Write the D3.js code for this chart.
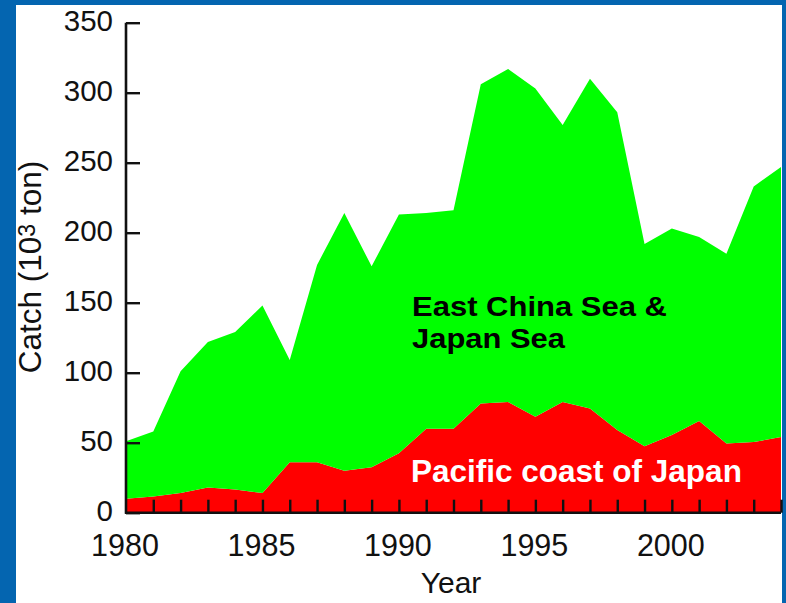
<!DOCTYPE html>
<html><head><meta charset="utf-8">
<script src="https://cdn.jsdelivr.net/npm/d3@7"></script>
<style>html,body{margin:0;padding:0;background:#0465b0;overflow:hidden} svg{display:block}</style>
</head><body><svg id="chart" width="786" height="603"></svg>
<script>
// ---- data ----
const years = [1980,1981,1982,1983,1984,1985,1986,1987,1988,1989,1990,1991,1992,1993,1994,1995,1996,1997,1998,1999,2000,2001,2002,2003,2004];
const pacificCoast = [10,11.5,14,18,16.5,14,36,36,30,32.5,42.5,60,60,78,79,68.5,79,74.5,59,47.5,55.5,65.5,49.5,50.5,54];
const eastChinaJapanSea = [41,46.5,87,104,112.5,134,73,141,184,143.5,170.5,154,156,228,238,234.5,198,235.5,227,144.5,147.5,131.5,135.5,182.5,193];
const yTickValues = [0,50,100,150,200,250,300,350];
const xLabelYears = [1980,1985,1990,1995,2000];
const seriesKeys = ["pacific","eastChina"];
const seriesColors = ["#ff0000","#00ff00"];
const labelTop = ["East China Sea &","Japan Sea"];
const labelBottom = "Pacific coast of Japan";

// ---- build ----
const table = years.map((yr,i)=>({year:yr,pacific:pacificCoast[i],eastChina:eastChinaJapanSea[i]}));
const svg = d3.select("#chart");
const FONT = "'Liberation Sans', Arial, Helvetica, sans-serif";
svg.append("rect").attr("x",16).attr("y",5).attr("width",766).attr("height",598).attr("fill","#ffffff");

const x = d3.scaleLinear().domain([1980,2004]).range([126,781]);
const y = d3.scaleLinear().domain([0,350]).range([512.7,22.7]);

const stacked = d3.stack().keys(seriesKeys)(table);
const area = d3.area().x(d=>x(d.data.year)).y0(d=>y(d[0])).y1(d=>y(d[1])).curve(d3.curveLinear);
svg.append("g").selectAll("path").data(stacked).join("path")
  .attr("d",area).attr("fill",(d,i)=>seriesColors[i]);

// x axis
const xAxis = d3.axisBottom(x).tickValues(years.slice(1)).tickSize(-13).tickFormat("");
const gx = svg.append("g").attr("transform",`translate(0,${y(0)})`).call(xAxis);
gx.select(".domain").attr("stroke","#111").attr("stroke-width",2.6).attr("d",`M${x(1980)-1},0H${x(2004)}`);
gx.selectAll(".tick line").attr("stroke","#111").attr("stroke-width",2.4);
svg.append("g").selectAll("text").data(xLabelYears).join("text")
  .attr("x",d=>x(d)-1).attr("y",556).attr("text-anchor","middle")
  .attr("font-family",FONT).attr("font-size",30.5).attr("fill","#111").text(d=>d);

// y axis
const yAxis = d3.axisLeft(y).tickValues(yTickValues).tickSize(-14).tickFormat("");
const gy = svg.append("g").attr("transform",`translate(${x(1980)},0)`).call(yAxis);
gy.select(".domain").attr("stroke","#111").attr("stroke-width",2.6).attr("d",`M0,${y(350)}V${y(0)+1}`);
gy.selectAll(".tick line").attr("stroke","#111").attr("stroke-width",2.4);
svg.append("g").selectAll("text").data(yTickValues).join("text")
  .attr("x",113).attr("y",d=>y(d)+8).attr("text-anchor","end")
  .attr("font-family",FONT).attr("font-size",29.5).attr("fill","#111").text(d=>d);

// axis titles
svg.append("text").attr("x",451).attr("y",593).attr("text-anchor","middle")
  .attr("font-family",FONT).attr("font-size",30).attr("fill","#111").text("Year");
const yl = svg.append("text").attr("transform","translate(41,267) rotate(-90)")
  .attr("text-anchor","middle").attr("font-family",FONT).attr("font-size",31.5).attr("fill","#111");
yl.append("tspan").text("Catch (10");
yl.append("tspan").attr("font-size",23).attr("dy",-6).text("3");
yl.append("tspan").attr("dy",6).text(" ton)");

// series labels
const topLens = [255,153];
svg.append("g").selectAll("text").data(labelTop).join("text")
  .attr("x",412).attr("y",(d,i)=>316+i*31.5)
  .attr("textLength",(d,i)=>topLens[i]).attr("lengthAdjust","spacingAndGlyphs")
  .attr("font-family",FONT).attr("font-weight","bold").attr("font-size",28).attr("fill","#000").text(d=>d);
svg.append("text").attr("x",411).attr("y",482)
  .attr("font-family",FONT).attr("font-weight","bold").attr("font-size",31.5).attr("fill","#ffffff").text(labelBottom);
</script></body></html>
